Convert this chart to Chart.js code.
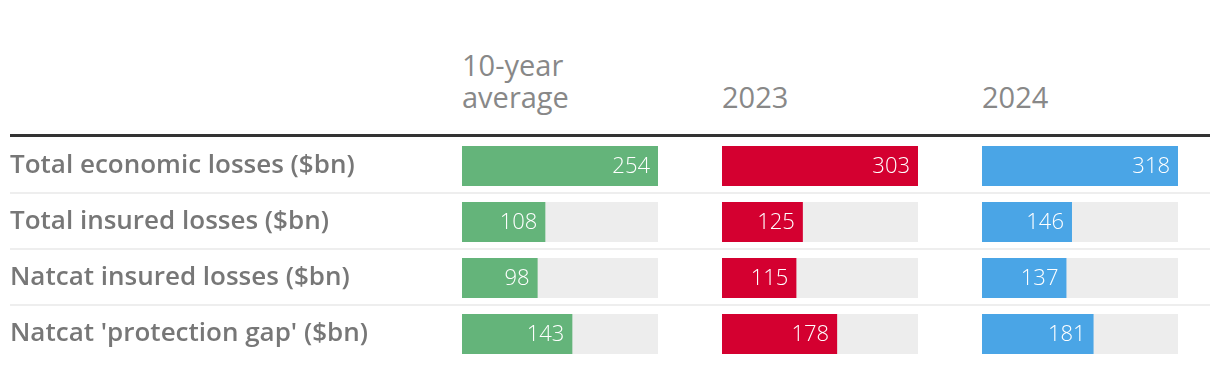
<!DOCTYPE html>
<html>
<head>
<meta charset="utf-8">
<script src="https://cdn.jsdelivr.net/npm/chart.js@4/dist/chart.umd.min.js"></script>
<style>
  body { margin: 0; background: #fff; font-family: "Open Sans", Lato, sans-serif; }
  #wrap { position: relative; width: 1220px; height: 370px; overflow: hidden; }
  .head { position: absolute; color: #888; font-size: 29px; line-height: 32px; }
  .rule { position: absolute; left: 10px; width: 1200px; }
  canvas { position: absolute; top: 138px; }
</style>
</head>
<body>
<div id="wrap"></div>
<script>
const categories = [
  'Total economic losses ($bn)',
  'Total insured losses ($bn)',
  'Natcat insured losses ($bn)',
  "Natcat 'protection gap' ($bn)"
];
const columnTitles = [['10-year', 'average'], ['2023'], ['2024']];
const tenYearAverage = [254, 108, 98, 143];
const values2023 = [303, 125, 115, 178];
const values2024 = [318, 146, 137, 181];

const columns = [
  { title: columnTitles[0], data: tenYearAverage, color: '#64b47a', left: 462 },
  { title: columnTitles[1], data: values2023, color: '#d40030', left: 722 },
  { title: columnTitles[2], data: values2024, color: '#4aa5e6', left: 982 }
];

const wrap = document.getElementById('wrap');

// header rule and row separators
const topRule = document.createElement('div');
topRule.className = 'rule';
topRule.style.cssText = 'top:134px;height:3px;background:#333;';
wrap.appendChild(topRule);
[192, 248, 304].forEach(y => {
  const sep = document.createElement('div');
  sep.className = 'rule';
  sep.style.cssText = `top:${y}px;height:2px;background:#eeeeee;`;
  wrap.appendChild(sep);
});

const valueLabels = {
  id: 'valueLabels',
  afterDatasetsDraw(chart) {
    const ctx = chart.ctx;
    const meta = chart.getDatasetMeta(0);
    const data = chart.data.datasets[0].data;
    ctx.save();
    ctx.fillStyle = '#ffffff';
    ctx.font = '300 22px "Open Sans", Lato, sans-serif';
    ctx.textAlign = 'right';
    ctx.textBaseline = 'middle';
    meta.data.forEach((bar, i) => {
      ctx.fillText(String(data[i]), bar.x - 8, bar.y + 1);
    });
    ctx.restore();
  }
};

columns.forEach((col, idx) => {
  const head = document.createElement('div');
  head.className = 'head';
  head.style.left = col.left + 'px';
  head.style.top = (113 - 32 * col.title.length) + 'px';
  head.innerHTML = col.title.join('<br>');
  wrap.appendChild(head);

  const withLabels = idx === 0;
  const canvas = document.createElement('canvas');
  canvas.width = withLabels ? col.left + 196 : 196;
  canvas.height = 224;
  canvas.style.left = (withLabels ? 0 : col.left) + 'px';
  wrap.appendChild(canvas);

  const max = Math.max(...col.data);
  const yScale = {
    display: withLabels,
    grid: { display: false },
    border: { display: false },
    ticks: {
      crossAlign: 'far',
      color: '#777',
      font: { family: '"Open Sans", Lato, sans-serif', size: 26, weight: '600' }
    }
  };
  if (withLabels) {
    yScale.afterFit = scale => {
      scale.width = col.left - 10;
      scale.paddingTop = 0;
      scale.paddingBottom = 0;
    };
  }

  new Chart(canvas.getContext('2d'), {
    type: 'bar',
    data: {
      labels: categories,
      datasets: [
        { data: col.data, backgroundColor: col.color, grouped: false, order: 0,
          barPercentage: 40 / 56, categoryPercentage: 1 },
        { data: col.data.map(() => max), backgroundColor: '#ededed', grouped: false, order: 1,
          barPercentage: 40 / 56, categoryPercentage: 1 }
      ]
    },
    options: {
      indexAxis: 'y',
      responsive: false,
      animation: false,
      layout: { padding: { left: withLabels ? 10 : 0, right: 0, top: 0, bottom: 0 } },
      plugins: { legend: { display: false }, tooltip: { enabled: false } },
      scales: {
        x: { display: false, min: 0, max: max },
        y: yScale
      }
    },
    plugins: [valueLabels]
  });
});
</script>
</body>
</html>
